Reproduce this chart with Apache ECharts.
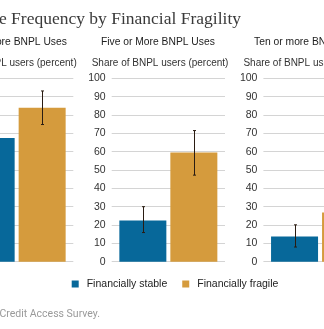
<!DOCTYPE html>
<html>
<head>
<meta charset="utf-8">
<style>html,body{margin:0;padding:0;background:#fff;overflow:hidden;width:324px;height:329px;position:relative;}
#c{position:absolute;left:-150px;top:0;width:580px;height:329px;}</style>
<script src="https://cdn.jsdelivr.net/npm/echarts@6/dist/echarts.min.js"></script>
</head>
<body>
<div id="c"></div>
<script>
// ---- data ----
var panels = ['Three or More BNPL Uses', 'Five or More BNPL Uses', 'Ten or more BNPL Uses'];
var seriesNames = ['Financially stable', 'Financially fragile'];
var stableValues = [67.5, 22.4, 13.8];
var fragileValues = [84.0, 59.5, 26.8];
var stableLow = [60.0, 15.9, 8.0];
var stableHigh = [75.0, 30.0, 20.1];
var fragileLow = [74.8, 47.2, 19.0];
var fragileHigh = [93.1, 71.5, 35.0];
var yTicks = [0, 10, 20, 30, 40, 50, 60, 70, 80, 90, 100];
var titleText = 'BNPL Use Frequency by Financial Fragility';
var yName = 'Share of BNPL users (percent)';
var sourceText = 'Source: New York Fed SCE Credit Access Survey.';

// ---- layout ----
var OFF = 150; // chart canvas is shifted left by this many px (the reference is a crop)
var colors = ['#07689a', '#d59b3d'];
var gridLefts = [-40 + OFF, 111.7 + OFF, 263.4 + OFF];
var gridW = 113.3, gridTop = 78.3, gridH = 183.4;
var barW = 47, gapPx = 4;
var font = '"Liberation Sans", Arial, sans-serif';

var grids = [], xAxes = [], yAxes = [], series = [], graphics = [];
panels.forEach(function (p, i) {
  grids.push({left: gridLefts[i], top: gridTop, width: gridW, height: gridH, containLabel: false});
  xAxes.push({type: 'category', gridIndex: i, data: [p], show: false});
  yAxes.push({
    type: 'value', gridIndex: i, min: yTicks[0], max: yTicks[yTicks.length - 1], interval: yTicks[1] - yTicks[0],
    axisLine: {show: false}, axisTick: {show: false},
    axisLabel: {margin: 6, color: '#333', fontSize: 10.5, fontFamily: font},
    splitLine: {lineStyle: {color: '#d4d4d4', width: 1}}
  });
  series.push({
    name: seriesNames[0], type: 'bar', xAxisIndex: i, yAxisIndex: i,
    data: [stableValues[i]], barWidth: barW, barGap: (gapPx / barW * 100) + '%',
    itemStyle: {color: colors[0]}, silent: true
  });
  series.push({
    name: seriesNames[1], type: 'bar', xAxisIndex: i, yAxisIndex: i,
    data: [fragileValues[i]], barWidth: barW,
    itemStyle: {color: colors[1]}, silent: true
  });
  var errData = [[0, stableLow[i], stableHigh[i], -1], [0, fragileLow[i], fragileHigh[i], 1]];
  series.push({
    type: 'custom', xAxisIndex: i, yAxisIndex: i, silent: true, z: 10,
    data: errData,
    renderItem: function (params, api) {
      var c = api.coord([api.value(0), api.value(1)]);
      var h = api.coord([api.value(0), api.value(2)]);
      var x = Math.round(c[0] + api.value(3) * (barW / 2 + gapPx / 2)) + 0.5;
      var cap = 1.5;
      var st = {stroke: '#2a1c12', lineWidth: 1};
      return {type: 'group', children: [
        {type: 'line', shape: {x1: x, y1: c[1], x2: x, y2: h[1]}, style: st},
        {type: 'line', shape: {x1: x - cap, y1: c[1], x2: x + cap, y2: c[1]}, style: st},
        {type: 'line', shape: {x1: x - cap, y1: h[1], x2: x + cap, y2: h[1]}, style: st}
      ]};
    }
  });
  graphics.push({type: 'text', style: {
    text: p, x: gridLefts[i] + 46.2, y: 41.7, align: 'center', verticalAlign: 'middle',
    font: '10.3px ' + font, fill: '#222'}});
  graphics.push({type: 'text', style: {
    text: yName, x: gridLefts[i] - 20, y: 63.3, align: 'left', verticalAlign: 'middle',
    font: '10px ' + font, fill: '#333'}});
});
graphics.push({type: 'text', style: {text: titleText, x: 241 + OFF, y: 19, align: 'right', verticalAlign: 'middle',
  font: '17.5px "Liberation Serif", "Times New Roman", serif', fill: '#3a3a3a'}});
graphics.push({type: 'text', style: {text: sourceText, x: 100 + OFF, y: 314, align: 'right', verticalAlign: 'middle',
  font: '10.5px Roboto, sans-serif', fill: '#9a9a9a'}});

var chart = echarts.init(document.getElementById('c'), null, {renderer: 'canvas'});
chart.setOption({
  animation: false,
  backgroundColor: '#fff',
  grid: grids, xAxis: xAxes, yAxis: yAxes, series: series,
  legend: {
    data: seriesNames, left: 71.7 + OFF, top: 278.5, icon: 'rect', padding: 0,
    itemWidth: 7, itemHeight: 7, itemGap: 15,
    textStyle: {fontSize: 10.5, color: '#222', fontFamily: font, padding: [0, 0, 0, 3]},
    selectedMode: false
  },
  graphic: graphics
});
</script>
</body>
</html>
